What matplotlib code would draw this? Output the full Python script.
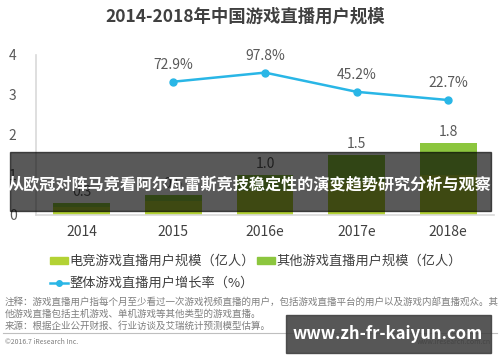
import matplotlib.pyplot as plt
import numpy as np

plt.rcParams['font.family'] = ['Noto Sans CJK SC', 'DejaVu Sans']

# data
years = ["2014", "2015", "2016e", "2017e", "2018e"]
esports_users = [0.2, 0.35, 0.6, 0.85, 1.0]
other_users = [0.1, 0.15, 0.4, 0.65, 0.8]
growth_years = ["2015", "2016e", "2017e", "2018e"]
growth_rate = [72.9, 97.8, 45.2, 22.7]

c_esports = "#b3d234"
c_other = "#8cc63e"
c_line = "#29b6e6"
c_text = "#404040"
c_gray = "#7f7f7f"

fig = plt.figure(figsize=(5, 3.62), dpi=100)
fig.patch.set_facecolor("white")

W, H = 500, 362
def fx(x):
    return x / W
def fy(y):
    return 1 - y / H

ax = fig.add_axes([fx(36), fy(215), fx(458), 160 / H])
x = np.arange(len(years))
totals = np.array(esports_users) + np.array(other_users)

ax.bar(x, esports_users, width=0.62, color=c_esports, zorder=2)
ax.bar(x, other_users, width=0.62, bottom=esports_users, color=c_other, zorder=2)

for xi, t in zip(x, totals):
    ax.annotate(f"{t:.1f}", (xi, t), xytext=(0, 3), textcoords="offset points",
                ha="center", va="bottom", fontsize=10, color="#595959")

ax.set_xlim(-0.5, 4.5)
ax.set_ylim(0, 4)
ax.set_yticks([0, 1, 2, 3, 4])
ax.set_xticks(x)
ax.set_xticklabels(years)
ax.tick_params(axis="y", length=0, pad=14, labelsize=10, labelcolor="#595959")
ax.tick_params(axis="x", length=0, pad=7, labelsize=10, labelcolor=c_text)
for s in ["top", "right"]:
    ax.spines[s].set_visible(False)
ax.spines["left"].set_color("#d9d9d9")
ax.spines["bottom"].set_color("#d9d9d9")
ax.spines["left"].set_linewidth(1.2)
ax.spines["bottom"].set_linewidth(1.2)

ax2 = ax.twinx()
gx = [years.index(g) for g in growth_years]
ax2.plot(gx, growth_rate, color=c_line, lw=1.8, marker="o", markersize=5, zorder=3)
for xi, g in zip(gx, growth_rate):
    ax2.annotate(f"{g:.1f}%", (xi, g), xytext=(0, 7), textcoords="offset points",
                 ha="center", va="bottom", fontsize=10, color="#595959")
ax2.set_ylim(-292, 146)
ax2.axis("off")

fig.text(fx(245), fy(17), "2014-2018年中国游戏直播用户规模", ha="center", va="center",
         fontsize=12.5, fontweight="bold", color=c_text)

# legend
fig.patches.append(plt.Rectangle((fx(50), fy(264)), fx(18), 7 / H, color=c_esports,
                                 transform=fig.transFigure))
fig.text(fx(69), fy(261), "电竞游戏直播用户规模（亿人）", va="center", fontsize=9.5, color=c_text)
fig.patches.append(plt.Rectangle((fx(257), fy(264)), fx(18), 7 / H, color=c_other,
                                 transform=fig.transFigure))
fig.text(fx(276), fy(261), "其他游戏直播用户规模（亿人）", va="center", fontsize=9.5, color=c_text)
fig.lines.append(plt.Line2D([fx(50), fx(68)], [fy(283), fy(283)], color=c_line, lw=1.8,
                            transform=fig.transFigure))
fig.lines.append(plt.Line2D([fx(59)], [fy(283)], color=c_line, marker="o", markersize=4,
                            transform=fig.transFigure))
fig.text(fx(69), fy(283), "整体游戏直播用户增长率（%）", va="center", fontsize=9.5, color=c_text)

# notes
notes = ["注释：游戏直播用户指每个月至少看过一次游戏视频直播的用户，包括游戏直播平台的用户以及游戏内部直播观众。其",
         "他游戏直播包括主机游戏、单机游戏等其他类型的游戏直播。",
         "来源：根据企业公开财报、行业访谈及艾瑞统计预测模型估算。"]
for i, n in enumerate(notes):
    fig.text(fx(5), fy(302 + i * 12), n, va="center", fontsize=6.85, color=c_gray)
fig.lines.append(plt.Line2D([fx(3), fx(497)], [fy(333), fy(333)], color="#bfbfbf", lw=0.8,
                            transform=fig.transFigure))
fig.text(fx(5), fy(342), "©2016.7 iResearch Inc.", va="center", fontsize=5, color=c_gray)
fig.text(fx(491), fy(342), "www.iresearch.com.cn", va="center", ha="right", fontsize=5, color=c_gray)

# overlay banners
fig.patches.append(plt.Rectangle((fx(10), fy(211)), fx(481), 59 / H, color="black", alpha=0.65,
                                 transform=fig.transFigure, zorder=10))
fig.text(fx(250), fy(184), "从欧冠对阵马竞看阿尔瓦雷斯竞技稳定性的演变趋势研究分析与观察",
         ha="center", va="center", fontsize=11.6, fontweight="bold", color="white", zorder=11)
fig.patches.append(plt.Rectangle((fx(286), fy(353)), fx(205), 38 / H, color="#3a3a3a", alpha=0.85,
                                 transform=fig.transFigure, zorder=10))
fig.text(fx(388), fy(334), "www.zh-fr-kaiyun.com", ha="center", va="center",
         fontsize=12, fontweight="bold", color="white", zorder=11)

fig.savefig("out.png", dpi=100)
